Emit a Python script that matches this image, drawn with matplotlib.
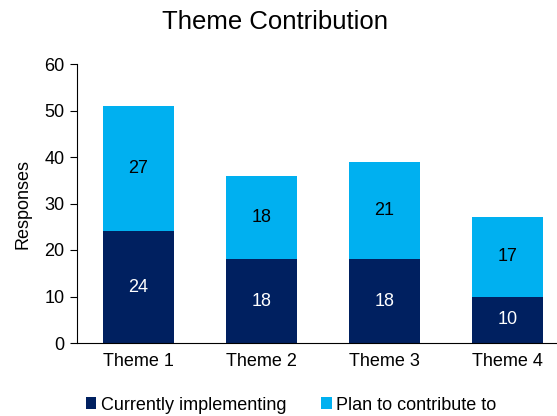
import matplotlib.pyplot as plt

plt.rcParams["font.family"] = ["Liberation Sans", "DejaVu Sans"]

themes = ["Theme 1", "Theme 2", "Theme 3", "Theme 4"]
implementing = [24, 18, 18, 10]
plan = [27, 18, 21, 17]

dark = "#002060"
light = "#00B0F0"

fig = plt.figure(figsize=(5.57, 4.16), dpi=100)
ax = fig.add_axes([77 / 557, 73 / 416, 480 / 557, 279 / 416])

x = list(range(len(themes)))
b1 = ax.bar(x, implementing, width=0.585, color=dark, label="Currently implementing")
b2 = ax.bar(x, plan, width=0.585, bottom=implementing, color=light, label="Plan to contribute to")

for xi, a, p in zip(x, implementing, plan):
    ax.text(xi, a / 2, str(a), ha="center", va="center", color="white", fontsize=13)
    ax.text(xi, a + p / 2, str(p), ha="center", va="center", color="black", fontsize=13)

ax.set_xlim(-0.5, -0.5 + 480 / 123)
ax.set_ylim(0, 60)
ax.set_yticks(range(0, 61, 10))
ax.set_xticks(x)
ax.set_xticklabels(themes)
ax.tick_params(axis="x", length=0, labelsize=13, pad=7)
ax.tick_params(axis="y", length=5, labelsize=13, direction="out", pad=4)
ax.spines["top"].set_visible(False)
ax.spines["right"].set_visible(False)
ax.set_ylabel("Responses", fontsize=13, labelpad=9)

fig.suptitle("Theme Contribution", fontsize=18.5, x=0.493, y=0.975)
fig.legend(handles=[b1, b2], loc="center", bbox_to_anchor=(291 / 557, 1 - 405 / 416), ncol=2,
           frameon=False, fontsize=13, handlelength=0.6, handleheight=0.6,
           handletextpad=0.25, columnspacing=1.9, borderaxespad=0, borderpad=0)

fig.savefig("out.png", dpi=100)
